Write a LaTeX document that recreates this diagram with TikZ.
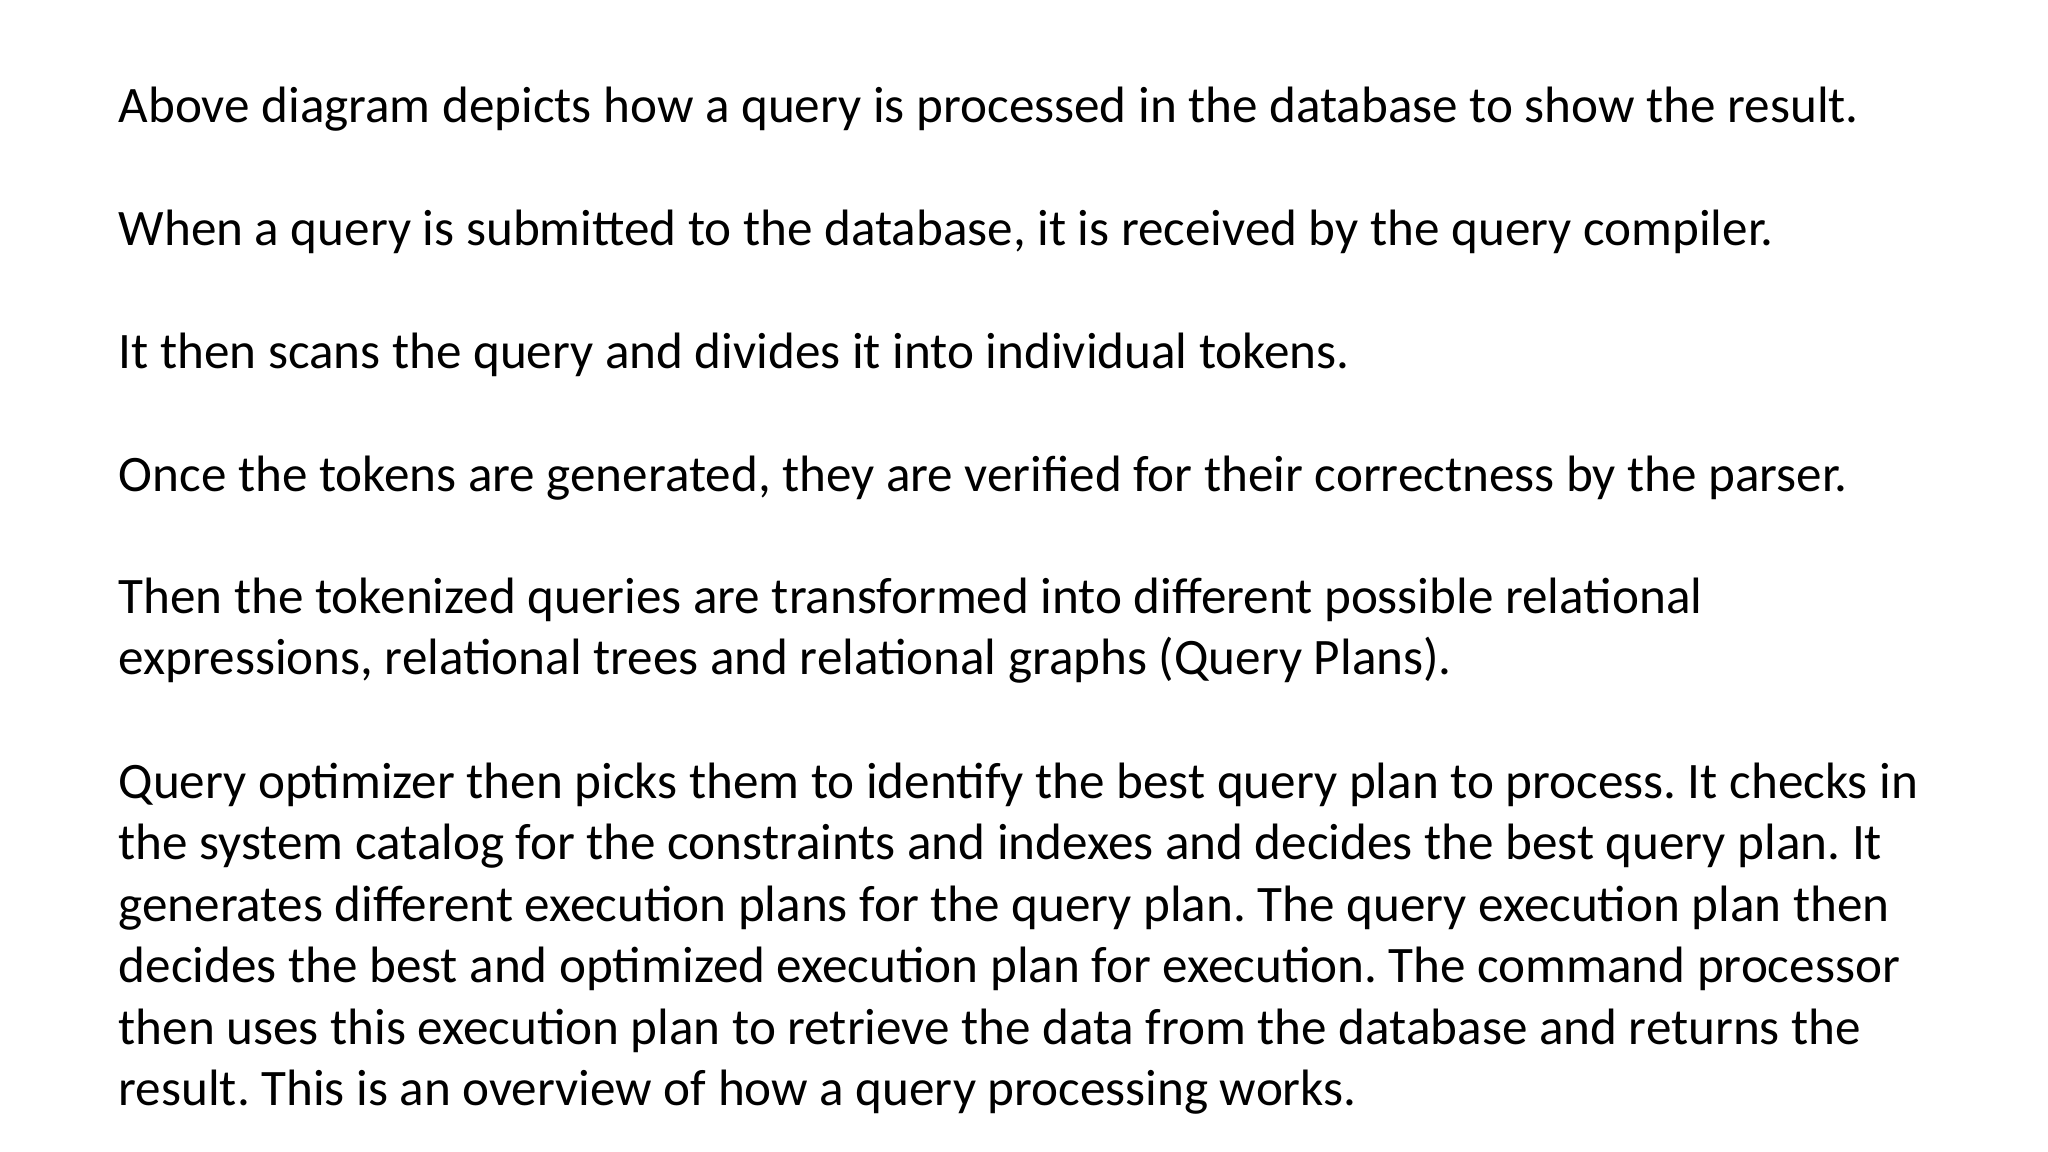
\documentclass[tikz,border=0pt]{standalone}
\usepackage{fontspec}
\setmainfont{Carlito}
\begin{document}
\frenchspacing
\begin{tikzpicture}[txt/.style={anchor=base west,inner sep=0pt,font=\fontsize{14.55pt}{17pt}\selectfont}]
\useasboundingbox (0,0) rectangle (20.48,11.52);
\def\X{1.18}
\node[txt] (l1) at (\X,11.52-1.23) {Above diagram depicts how a query is processed in the database to show the result.};
\node[txt] (l2) at (\X,11.52-2.458) {When a query is submitted to the database, it is received by the query compiler.};
\node[txt] (l3) at (\X,11.52-3.685) {It then scans the query and divides it into individual tokens.};
\node[txt] (l4) at (\X,11.52-4.917) {Once the tokens are generated, they are verified for their correctness by the parser.};
\node[txt] (l5) at (\X,11.52-6.14) {Then the tokenized queries are transformed into different possible relational};
\node[txt] (l6) at (\X,11.52-6.741) {expressions, relational trees and relational graphs (Query Plans).};
\node[txt] (l7) at (\X,11.52-7.984) {Query optimizer then picks them to identify the best query plan to process. It checks in};
\node[txt] (l8) at (\X,11.52-8.60) {the system catalog for the constraints and indexes and decides the best query plan. It};
\node[txt] (l9) at (\X,11.52-9.216) {generates different execution plans for the query plan. The query execution plan then};
\node[txt] (l10) at (\X,11.52-9.828) {decides the best and optimized execution plan for execution. The command processor};
\node[txt] (l11) at (\X,11.52-10.444) {then uses this execution plan to retrieve the data from the database and returns the};
\node[txt] (l12) at (\X,11.52-11.055) {result. This is an overview of how a query processing works.};
\end{tikzpicture}
\end{document}
